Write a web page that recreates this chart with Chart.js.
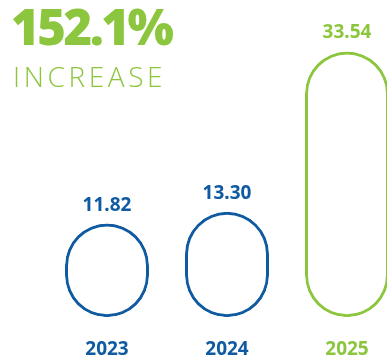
<!DOCTYPE html>
<html>
<head>
<meta charset="utf-8">
<script src="https://cdn.jsdelivr.net/npm/chart.js@4.4.1/dist/chart.umd.min.js"></script>
<style>
  html, body { margin: 0; padding: 0; background: #ffffff; overflow: hidden; width: 387px; height: 357px; }
  #wrap { position: relative; width: 387px; height: 357px; overflow: hidden; }
  #chart { position: absolute; left: 0; top: 0; }
  .big { position: absolute; left: 11px; top: 2px; font-family: "Noto Sans", sans-serif; font-weight: 900; font-size: 49px; line-height: 1; color: #8cc63f; letter-spacing: -2.5px; white-space: nowrap; }
  .sub { position: absolute; left: 13px; top: 62px; font-family: "Open Sans", sans-serif; font-weight: 300; font-size: 28px; line-height: 1; color: #8cc63f; letter-spacing: 3.6px; white-space: nowrap; }
</style>
</head>
<body>
<div id="wrap">
  <canvas id="chart" width="420" height="357"></canvas>
  <div class="big">152.1%</div>
  <div class="sub">INCREASE</div>
</div>
<script>
const years = ["2023", "2024", "2025"];
const values = [11.82, 13.30, 33.54];
const valueLabels = ["11.82", "13.30", "33.54"];
const barColors = ["#0f5aa0", "#0f5aa0", "#8cc63f"];

const valueLabelPlugin = {
  id: 'valueLabels',
  afterDatasetsDraw(chart) {
    const ctx = chart.ctx;
    const meta = chart.getDatasetMeta(0);
    ctx.save();
    ctx.font = 'bold 19px "Noto Sans", sans-serif';
    ctx.textAlign = 'center';
    ctx.textBaseline = 'alphabetic';
    meta.data.forEach((bar, i) => {
      ctx.fillStyle = barColors[i];
      ctx.fillText(valueLabels[i], bar.x, bar.y - 13);
    });
    ctx.restore();
  }
};

new Chart(document.getElementById('chart'), {
  type: 'bar',
  data: {
    labels: years,
    datasets: [{
      data: values,
      backgroundColor: 'rgba(0,0,0,0)',
      borderColor: barColors,
      borderWidth: 3,
      borderSkipped: false,
      borderRadius: 60,
      barPercentage: 0.7,
      categoryPercentage: 1.0
    }]
  },
  options: {
    responsive: false,
    animation: false,
    events: [],
    layout: { padding: { left: 47, right: 13, top: 32, bottom: -25 } },
    plugins: { legend: { display: false }, tooltip: { enabled: false } },
    scales: {
      x: {
        grid: { display: false, drawTicks: false },
        border: { display: false },
        ticks: {
          padding: 21,
          color: barColors,
          font: { family: '"Noto Sans", sans-serif', weight: 'bold', size: 19 }
        }
      },
      y: {
        display: false,
        min: 0,
        max: 36
      }
    }
  },
  plugins: [valueLabelPlugin]
});
</script>
</body>
</html>
